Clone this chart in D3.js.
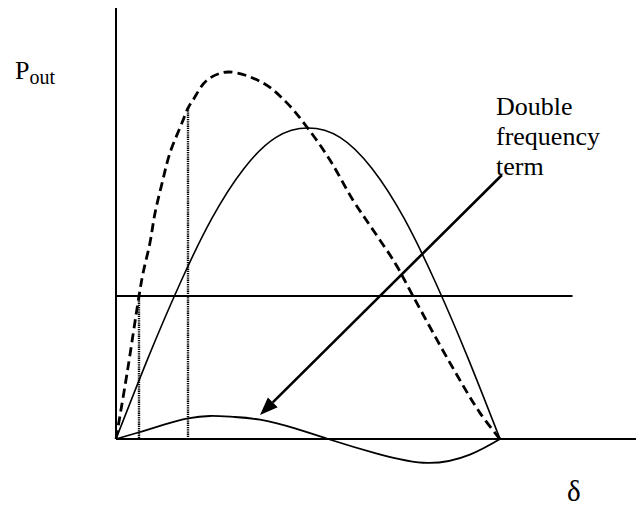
<!DOCTYPE html>
<html>
<head>
<meta charset="utf-8">
<script src="https://cdn.jsdelivr.net/npm/d3@7"></script>
<style>
  html, body { margin: 0; padding: 0; background: #fff; }
  svg { display: block; }
</style>
</head>
<body>
<svg id="chart" width="636" height="508"></svg>
<script>
// Power–angle characteristic of a salient-pole machine.
// Angles in electrical degrees, power in per-unit of the fundamental peak.

// Fundamental (sin δ) term
const fundDelta = [0, 15, 30, 45, 60, 75, 90, 105, 120, 135, 150, 165, 180];
const fundP     = [0, 0.26, 0.5, 0.71, 0.87, 0.97, 1.0, 0.97, 0.87, 0.71, 0.5, 0.26, 0];

// Double frequency (reluctance) term
const dblDelta = [0, 11.25, 22.5, 33.75, 44.1, 55, 67.5, 83.9, 99.4, 122.3, 146.25, 165.9, 180];
const dblP     = [0, 0.0225, 0.046, 0.066, 0.074, 0.071, 0.062, 0.034, 0, -0.047, -0.077, -0.05, 0];

// Resultant output
const totDelta = [0, 5.2, 10.8, 12.7, 15.9, 18.3, 21.6, 25.3, 30.9, 33.75, 36.1, 42.7, 52.5, 68.9, 80.2, 89.5, 100.3, 111.1, 120.5, 130.8, 139.2, 156.6, 170.6, 180];
const totP     = [0, 0.212, 0.46, 0.534, 0.63, 0.727, 0.823, 0.92, 1.016, 1.064, 1.09, 1.154, 1.18, 1.145, 1.08, 1.003, 0.897, 0.768, 0.672, 0.566, 0.46, 0.244, 0.084, 0];

// Mechanical input line and the two operating angles
const inputP = 0.46;
const inputLineEnd = 214;
const operatingDelta = [10.8, 33.75];

// Axis extents
const deltaAxisMax = 244;
const pAxisMax = 1.386;

// Annotation
const noteLines = ["Double", "frequency", "term"];
const arrowFrom = [180.9, 0.849];
const arrowTo = [67.5, 0.077];

const SERIF = "'Liberation Serif', 'Times New Roman', 'DejaVu Serif', serif";

const svg = d3.select("#chart");

const x = d3.scaleLinear().domain([0, 180]).range([116, 500]);
const y = d3.scaleLinear().domain([0, 1]).range([439, 128]);

const toPts = (ds, ps) => ds.map((d, i) => [d, ps[i]]);
const smooth = d3.line()
  .x(d => x(d[0]))
  .y(d => y(d[1]))
  .curve(d3.curveNatural);
const traced = d3.line()
  .x(d => x(d[0]))
  .y(d => y(d[1]))
  .curve(d3.curveCatmullRom.alpha(0.5));

// Axes
svg.append("line")
  .attr("x1", x(0)).attr("x2", x(0))
  .attr("y1", y(pAxisMax)).attr("y2", y(0))
  .attr("stroke", "#000").attr("stroke-width", 2);
svg.append("line")
  .attr("x1", x(0)).attr("x2", x(deltaAxisMax))
  .attr("y1", y(0)).attr("y2", y(0))
  .attr("stroke", "#000").attr("stroke-width", 2);

// Input power line
svg.append("line")
  .attr("x1", x(0)).attr("x2", x(inputLineEnd))
  .attr("y1", y(inputP)).attr("y2", y(inputP))
  .attr("stroke", "#000").attr("stroke-width", 2);

// Dotted drop lines at the operating angles
operatingDelta.forEach(d => {
  const i = totDelta.indexOf(d);
  const top = i >= 0 ? totP[i] : inputP;
  const px = Math.round(x(d));
  svg.append("line")
    .attr("x1", px).attr("x2", px)
    .attr("y1", Math.round(y(top))).attr("y2", Math.round(y(0)))
    .attr("stroke", "#000").attr("stroke-width", 2.4)
    .attr("stroke-dasharray", "1.3,0.9");
});

// Curves
svg.append("path")
  .attr("d", smooth(toPts(fundDelta, fundP)))
  .attr("fill", "none").attr("stroke", "#000").attr("stroke-width", 1.6);

svg.append("path")
  .attr("d", smooth(toPts(dblDelta, dblP)))
  .attr("fill", "none").attr("stroke", "#000").attr("stroke-width", 1.8);

svg.append("path")
  .attr("d", traced(toPts(totDelta, totP)))
  .attr("fill", "none").attr("stroke", "#000").attr("stroke-width", 2.8)
  .attr("stroke-dasharray", "9,5");

// Arrow pointing at the double frequency term
const ax1 = x(arrowFrom[0]), ay1 = y(arrowFrom[1]);
const ax2 = x(arrowTo[0]), ay2 = y(arrowTo[1]);
const ang = Math.atan2(ay2 - ay1, ax2 - ax1);
const headLen = 18, headHalf = 7;
const bx = ax2 - headLen * Math.cos(ang), by = ay2 - headLen * Math.sin(ang);
svg.append("line")
  .attr("x1", ax1).attr("y1", ay1)
  .attr("x2", bx).attr("y2", by)
  .attr("stroke", "#000").attr("stroke-width", 2.6);
svg.append("polygon")
  .attr("points", [
    [ax2, ay2],
    [bx + headHalf * Math.sin(ang), by - headHalf * Math.cos(ang)],
    [bx - headHalf * Math.sin(ang), by + headHalf * Math.cos(ang)]
  ].map(p => p.join(",")).join(" "))
  .attr("fill", "#000");

// Annotation text
const note = svg.append("text")
  .attr("x", 496).attr("y", 115)
  .attr("font-family", SERIF)
  .attr("font-size", 26)
  .attr("fill", "#000");
noteLines.forEach((t, i) => {
  note.append("tspan")
    .attr("x", 496).attr("dy", i === 0 ? 0 : 30)
    .text(t);
});

// Axis labels
const pLabel = svg.append("text")
  .attr("x", 15).attr("y", 79)
  .attr("font-family", SERIF)
  .attr("font-size", 26)
  .attr("fill", "#000");
pLabel.append("tspan").text("P");
pLabel.append("tspan").attr("font-size", 20).attr("dy", 5).text("out");

svg.append("text")
  .attr("x", 567).attr("y", 501)
  .attr("font-family", SERIF)
  .attr("font-size", 29)
  .attr("fill", "#000")
  .text("δ");
</script>
</body>
</html>
